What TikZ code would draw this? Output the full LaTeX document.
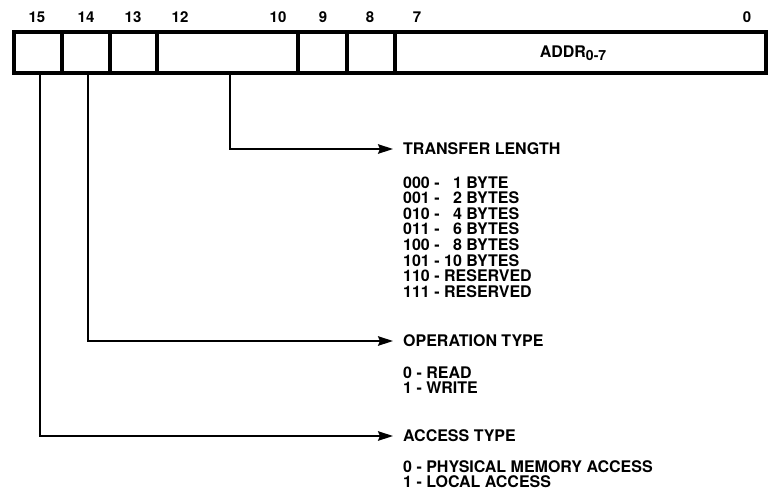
\documentclass[tikz,border=0pt]{standalone}
\usepackage{fontspec}
\setmainfont{TeX Gyre Heros}
\usetikzlibrary{arrows.meta}
\begin{document}
\begin{tikzpicture}[x=1pt,y=-1pt,
  cell/.style={draw, line width=3.4pt, minimum height=41pt, inner sep=0pt, outer sep=0pt},
  bitnum/.style={font=\fontsize{15}{15}\selectfont\bfseries, inner sep=0pt},
  head/.style={font=\fontsize{16}{15.6}\selectfont\bfseries, inner sep=0pt, anchor=west},
  list/.style={font=\fontsize{16}{15.6}\selectfont\bfseries, align=left, inner sep=0pt, anchor=north west},
  conn/.style={line width=2pt},
  arr/.style={conn, -{Stealth[length=15pt,width=9.5pt,inset=2pt]}}]
\useasboundingbox (0,0) rectangle (769,491);
% register cells
\node[cell, minimum width=48pt]  (c15) at (38,52.5) {};
\node[cell, minimum width=48pt]  (c14) at (86,52.5) {};
\node[cell, minimum width=47pt]  (c13) at (133.5,52.5) {};
\node[cell, minimum width=141pt] (c12) at (227.5,52.5) {};
\node[cell, minimum width=49pt]  (c9)  at (322.5,52.5) {};
\node[cell, minimum width=48pt]  (c8)  at (371,52.5) {};
\node[cell, minimum width=371pt] (c7)  at (580.5,52.5) {};
\node[head, anchor=center] (addr) at (573,53) {ADDR\raisebox{-3.5pt}{\fontsize{14}{14}\selectfont 0-7}};
% bit numbers
\node[bitnum] (b15) at (37,17) {15};
\node[bitnum] (b14) at (86,17) {14};
\node[bitnum] (b13) at (133,17) {13};
\node[bitnum] (b12) at (180,17) {12};
\node[bitnum] (b10) at (278,17) {10};
\node[bitnum] (b9)  at (323,17) {9};
\node[bitnum] (b8)  at (370,17) {8};
\node[bitnum] (b7)  at (417,17) {7};
\node[bitnum] (b0)  at (747,17) {0};
% headings
\node[head] (tl) at (403,149) {TRANSFER LENGTH};
\node[head] (ot) at (403,341) {OPERATION TYPE};
\node[head] (at) at (403,436) {ACCESS TYPE};
% lists
\node[list] (tll) at (403,176.3) {000 - \phantom{0}1 BYTE\\001 - \phantom{0}2 BYTES\\010 - \phantom{0}4 BYTES\\011 - \phantom{0}6 BYTES\\100 - \phantom{0}8 BYTES\\101 - 10 BYTES\\110 - RESERVED\\111 - RESERVED};
\node[list] (otl) at (403,366.3) {0 - READ\\1 - WRITE};
\node[list] (atl) at (403,460.3) {0 - PHYSICAL MEMORY ACCESS\\1 - LOCAL ACCESS};
% connectors
\draw[arr] ([xshift=2.5pt]c12.south) |- ([xshift=-10pt]tl.west);
\draw[arr] ([xshift=2pt]c14.south) |- ([xshift=-10pt]ot.west);
\draw[arr] ([xshift=2pt]c15.south) |- ([xshift=-10pt]at.west);
\end{tikzpicture}
\end{document}
